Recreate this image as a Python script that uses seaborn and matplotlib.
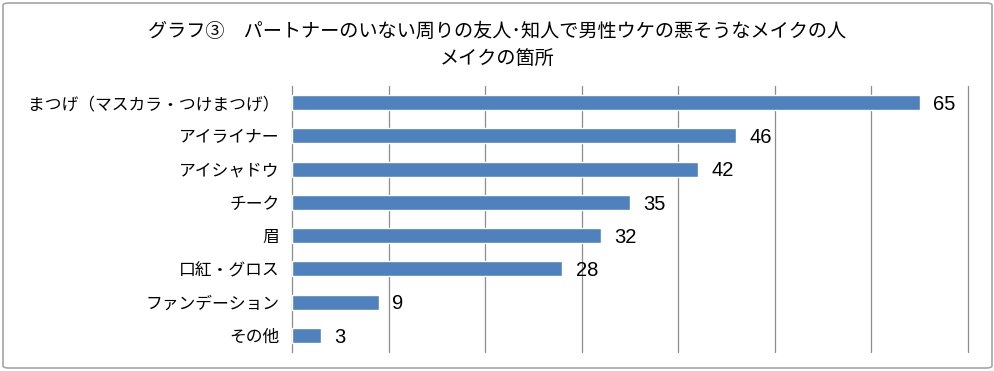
import matplotlib
matplotlib.use("Agg")
import matplotlib.pyplot as plt
import seaborn as sns
import pandas as pd
from matplotlib.patches import FancyBboxPatch

categories = ["まつげ（マスカラ・つけまつげ）", "アイライナー", "アイシャドウ", "チーク", "眉",
              "口紅・グロス", "ファンデーション", "その他"]
values = [65, 46, 42, 35, 32, 28, 9, 3]
title_text = "グラフ③　パートナーのいない周りの友人･知人で男性ウケの悪そうなメイクの人\nメイクの箇所"

sns.set_theme(style="white")
plt.rcParams['font.family'] = ['Noto Sans CJK JP', 'DejaVu Sans']

df = pd.DataFrame({"cat": categories, "val": values})

fig = plt.figure(figsize=(9.95, 3.71), dpi=100)
ax = fig.add_axes([292/995, 1-352/371, (968-292)/995, (352-86)/371])

sns.barplot(data=df, x="val", y="cat", orient="h", color="#4F81BD", saturation=1,
            width=0.45, ax=ax, zorder=3)

ax.set_xlim(0, 70)
ax.set_ylim(len(categories)-0.5, -0.5)
ax.set_xticks(range(0, 71, 10))
ax.set_xticklabels([])
ax.tick_params(axis='x', length=0)
ax.set_axisbelow(True)
for xv in range(10, 71, 10):
    ax.axvline(xv, color='#8c8c8c', linewidth=0.9, zorder=0, clip_on=False)
ax.set_xlabel("")
ax.set_ylabel("")
for s in ["top", "right", "bottom"]:
    ax.spines[s].set_visible(False)
ax.spines["left"].set_color("#8c8c8c")
ax.spines["left"].set_linewidth(0.9)
ax.set_yticks([i - 0.5 for i in range(len(categories)+1)], minor=True)
ax.tick_params(axis='y', which='minor', length=5, color='#8c8c8c', width=0.9, direction='out')
ax.tick_params(axis='y', which='major', length=0, pad=9, labelsize=12.1, labelcolor='black')

for i, v in enumerate(values):
    ax.text(v + 1.4, i + 0.05, str(v), va='center', ha='left', fontsize=14.5,
            family=['Liberation Sans', 'DejaVu Sans'], color='black')

fig.text(0.5, 1 - 45/371, title_text, ha='center', va='center', fontsize=13.8,
         linespacing=1.4, color='black')

border = FancyBboxPatch((3/995, 3/371), 1 - 6/995, 1 - 6/371,
                        boxstyle="round,pad=0,rounding_size=0.006",
                        transform=fig.transFigure, fill=False,
                        edgecolor='#a6a6a6', linewidth=1.2)
fig.patches.append(border)

fig.savefig("out.png", dpi=100)
